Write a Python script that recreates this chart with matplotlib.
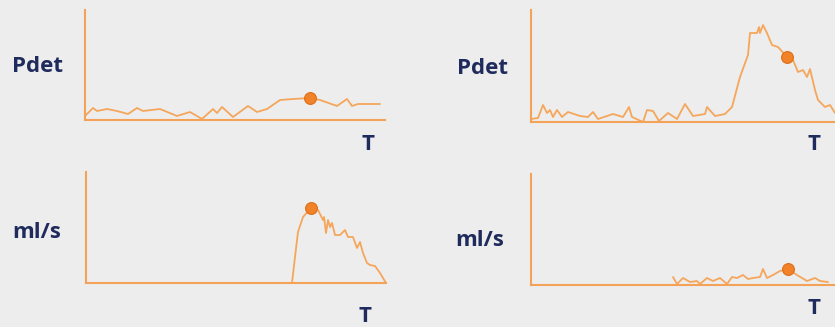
import matplotlib
matplotlib.use("Agg")
import matplotlib.pyplot as plt

W, H = 835, 327
BG = "#EDEDED"
LINE = "#F5A65B"
AXC = "#F4A257"
DOT = "#F28227"
DOT_EDGE = "#DC6E1A"
TXT = "#1F2B5C"

# Panel 1: Pdet (normal)
p1_t = [0, 8, 12, 22, 32, 43, 52, 58, 75, 92, 105, 117, 128, 132, 137, 148, 163, 172, 182, 195, 208, 225, 235, 252, 262, 267, 273, 295]
p1_v = [4, 12, 9, 11, 9, 6, 12, 9, 11, 4, 8, 1, 11, 7, 13, 3, 14, 8, 11, 20, 21, 22, 20, 14, 21, 14, 16, 16]
p1_dot = (225, 22)

# Panel 2: Pdet (high)
p2_t = [0, 7, 12, 16, 19, 22, 26, 31, 37, 49, 57, 62, 67, 82, 92, 98, 101, 112, 116, 122, 128, 137, 146, 154, 162, 174, 176, 184, 194, 201, 209, 217, 219, 226, 228, 229, 232, 236, 241, 247, 256, 262, 267, 272, 276, 279, 284, 287, 294, 299, 304]
p2_v = [3, 4, 17, 9, 12, 5, 12, 5, 10, 6, 5, 10, 3, 8, 5, 15, 5, 0, 12, 11, 1, 9, 3, 18, 6, 8, 15, 6, 8, 15, 45, 67, 89, 89, 95, 89, 97, 89, 77, 75, 65, 62, 50, 52, 45, 53, 32, 22, 15, 17, 9]
p2_dot = (256, 65)

# Panel 3: flow (normal)
p3_t = [206, 209, 212, 217, 225, 232, 237, 238, 240, 242, 244, 246, 249, 254, 259, 262, 267, 271, 274, 277, 281, 284, 289, 294, 300]
p3_v = [0, 26, 51, 66, 75, 73, 63, 66, 50, 63, 56, 60, 48, 48, 53, 46, 46, 35, 41, 30, 20, 18, 17, 10, 0]
p3_dot = (225, 75)

# Panel 4: flow (low)
p4_t = [142, 146, 152, 159, 166, 169, 176, 182, 189, 196, 201, 206, 212, 217, 222, 229, 232, 236, 242, 249, 257, 266, 276, 284, 289, 297]
p4_v = [8, 1, 7, 3, 4, 1, 7, 4, 7, 1, 8, 7, 10, 6, 7, 8, 16, 7, 10, 14, 16, 10, 4, 7, 4, 3]
p4_dot = (257, 16)

# layout: (left, bottom, right, top) in pixels
panels = [
    dict(t=p1_t, v=p1_v, dot=p1_dot, box=(85, 120, 385, 10), ylab="Pdet", ylab_xy=(37, 66), t_xy=(368, 145)),
    dict(t=p2_t, v=p2_v, dot=p2_dot, box=(531, 122, 835, 10), ylab="Pdet", ylab_xy=(482, 68), t_xy=(814, 145)),
    dict(t=p3_t, v=p3_v, dot=p3_dot, box=(86, 283, 386, 172), ylab="ml/s", ylab_xy=(37, 233), t_xy=(365, 317)),
    dict(t=p4_t, v=p4_v, dot=p4_dot, box=(531, 285, 835, 174), ylab="ml/s", ylab_xy=(480, 240), t_xy=(814, 308)),
]

fig = plt.figure(figsize=(W / 100, H / 100), dpi=100, facecolor=BG)
fig.patch.set_facecolor(BG)

for p in panels:
    l, b, r, t = p["box"]
    ax = fig.add_axes([l / W, 1 - b / H, (r - l) / W, (b - t) / H])
    ax.set_facecolor("none")
    ax.set_xlim(0, r - l)
    ax.set_ylim(0, b - t)
    for s in ("top", "right"):
        ax.spines[s].set_visible(False)
    for s in ("left", "bottom"):
        ax.spines[s].set_color(AXC)
        ax.spines[s].set_linewidth(1.5)
    ax.set_xticks([])
    ax.set_yticks([])
    ax.plot(p["t"], p["v"], color=LINE, lw=1.3, solid_joinstyle="round", solid_capstyle="round", clip_on=False)
    ax.plot([p["dot"][0]], [p["dot"][1]], "o", ms=8.5, color=DOT, mec=DOT_EDGE, mew=0.8, clip_on=False, zorder=5)
    fig.text(p["ylab_xy"][0] / W, 1 - p["ylab_xy"][1] / H, p["ylab"], ha="center", va="center",
             fontsize=16, fontweight="bold", family="Open Sans", color=TXT)
    fig.text(p["t_xy"][0] / W, 1 - p["t_xy"][1] / H, "T", ha="center", va="center",
             fontsize=16, fontweight="bold", family="Open Sans", color=TXT)

fig.savefig("out.png", dpi=100, facecolor=BG)
